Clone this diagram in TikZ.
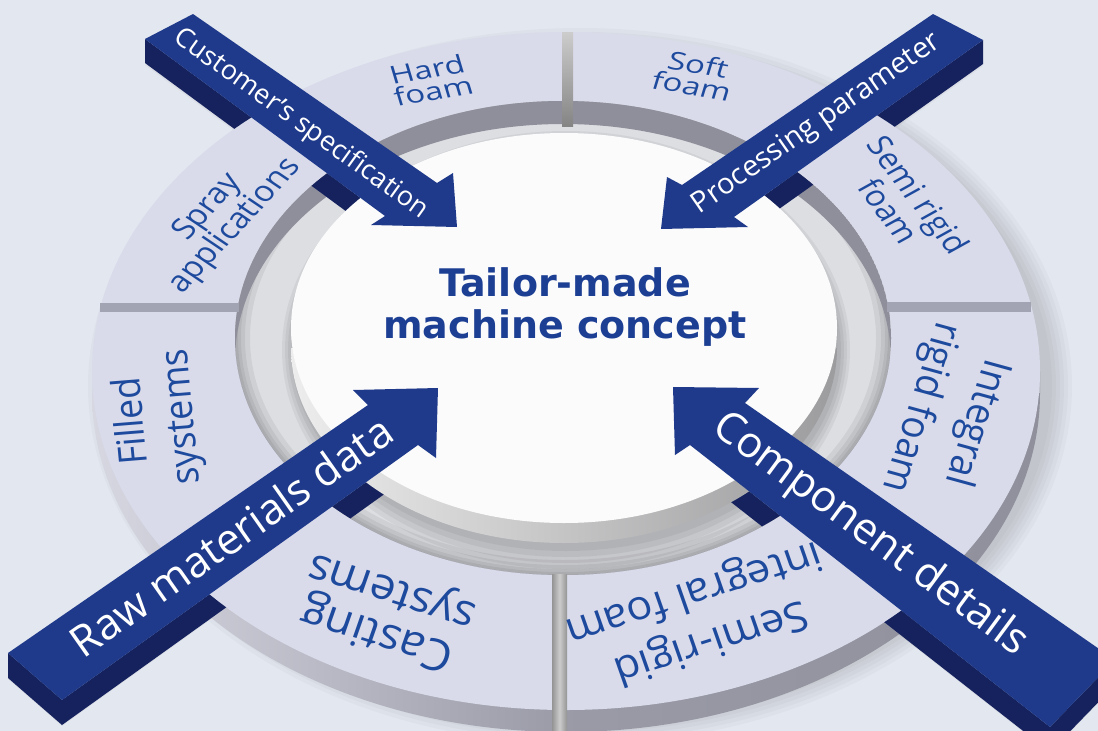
\documentclass[tikz,border=0pt]{standalone}
\usepackage{fontspec}
\setmainfont{Open Sans}
\newfontfamily\titlefont{DejaVu Sans}

\definecolor{bgcolor}{HTML}{E3E7EF}
\definecolor{ringtop}{HTML}{D9DBEB}
\definecolor{walllight}{HTML}{D6D7E1}
\definecolor{walldark}{HTML}{8F909C}
\definecolor{innerwall}{HTML}{8E8F9B}
\definecolor{holelight}{HTML}{DCDEE2}
\definecolor{disctop}{HTML}{FBFBFB}
\definecolor{discwallL}{HTML}{EDEDED}
\definecolor{discwallR}{HTML}{9C9C9E}
\definecolor{arrowblue}{HTML}{1F3A8A}
\definecolor{arrowdark}{HTML}{15225E}
\definecolor{ringtext}{HTML}{1E4A9E}
\definecolor{titleblue}{HTML}{1C3F94}
\definecolor{gapgray}{HTML}{A3A4B3}

\tikzset{
  arrowtop/.style={fill=arrowblue},
  arrowside/.style={fill=arrowdark},
  ringlabel/.style={text=ringtext, align=center, inner sep=0pt},
  ringfont/.style 2 args={font=\fontsize{#1}{#2}\selectfont},
  arrowlabel/.style={text=white, inner sep=0pt, font=\fontsize{27}{30}\selectfont},
  biglabel/.style={arrowlabel, font=\fontsize{43}{44}\selectfont},
}

\begin{document}
\begin{tikzpicture}[x=1pt,y=-1pt]
\useasboundingbox (0,0) rectangle (1098,731);
\clip (0,0) rectangle (1098,731);
\fill[bgcolor] (0,0) rectangle (1098,731);

% arrow corners, in pixels
\coordinate (cs-t1) at (145,39);
\coordinate (cs-t2) at (193,14);
\coordinate (cs-s2) at (437,183);
\coordinate (cs-b2) at (453,173);
\coordinate (cs-tip) at (457,227);
\coordinate (cs-b1) at (371,225);
\coordinate (cs-s1) at (385,216);

\coordinate (pp-t1) at (933,14);
\coordinate (pp-t2) at (983,40);
\coordinate (pp-s2) at (734,217);
\coordinate (pp-b2) at (748,227);
\coordinate (pp-tip) at (661,229);
\coordinate (pp-b1) at (667,177);
\coordinate (pp-s1) at (682,185);

\coordinate (rm-t1) at (8,653);
\coordinate (rm-t2) at (62,700);
\coordinate (rm-s1) at (368,405);
\coordinate (rm-b1) at (353,390);
\coordinate (rm-tip) at (438,388);
\coordinate (rm-b2) at (436,458);
\coordinate (rm-s2) at (418,445);

\coordinate (cd-tip) at (673,387);
\coordinate (cd-b1) at (759,388);
\coordinate (cd-s1) at (745,403);
\coordinate (cd-t1) at (1115,660);
\coordinate (cd-t2) at (1050,727);
\coordinate (cd-s2) at (690,445);
\coordinate (cd-b2) at (675,455);

% soft shadows on the ground
\foreach \d in {10,18,26}{
  \fill[black,opacity=0.04] ([yshift=-\d pt]cs-t1) -- ([yshift=-\d pt]cs-t2) -- ([yshift=-\d pt]cs-s2) -- ([yshift=-\d pt]cs-s1) -- cycle;
  \fill[black,opacity=0.04] ([yshift=-\d pt]pp-t1) -- ([yshift=-\d pt]pp-t2) -- ([yshift=-\d pt]pp-s2) -- ([yshift=-\d pt]pp-s1) -- cycle;
  \fill[black,opacity=0.04] ([yshift=-\d pt]rm-t1) -- ([yshift=-\d pt]rm-t2) -- ([yshift=-\d pt]rm-s2) -- ([yshift=-\d pt]rm-s1) -- cycle;
  \fill[black,opacity=0.04] ([yshift=-\d pt]cd-t1) -- ([yshift=-\d pt]cd-t2) -- ([yshift=-\d pt]cd-s2) -- ([yshift=-\d pt]cd-s1) -- cycle;
}
\foreach \k in {1,...,6}{
  \pgfmathsetmacro{\rx}{468+4*\k}
  \pgfmathsetmacro{\ry}{334+4*\k}
  \fill[black,opacity=0.025] (580,386) ellipse [x radius=\rx, y radius=\ry];
}

% ring
\shade[left color=walllight, right color=walldark, middle color=walldark!85!walllight]
  (92,371) rectangle (1040,393) (566,393) ellipse [x radius=474, y radius=339];
\fill[ringtop] (566,371) ellipse [x radius=474, y radius=339];

% hole of the ring
\fill[holelight] (563,338) ellipse [x radius=328, y radius=237];
\begin{scope}
\clip (563,338) ellipse [x radius=328, y radius=237];
\foreach \w in {6,12,20,30}
  \draw[black, opacity=0.06, line width=\w pt] (563,338) ellipse [x radius=328, y radius=237];
\fill[innerwall, even odd rule] (563,338) ellipse [x radius=328, y radius=237]
  (563,361) ellipse [x radius=328, y radius=237];
\foreach \k in {1,...,4}{
  \pgfmathsetmacro{\rx}{272+3*\k}
  \pgfmathsetmacro{\ry}{195+6*\k}
  \fill[black,opacity=0.05] (566,350) ellipse [x radius=\rx, y radius=\ry];
}
\end{scope}

% gaps between the segments
\shade[top color=black!20, bottom color=black!48] (562,32.5) rectangle (573,126);
\shade[left color=black!42, right color=black!42, middle color=black!20] (552,574) rectangle (567,731);
\fill[gapgray] (100,303) rectangle (239,312);
\fill[gapgray] (887,302) rectangle (1031,312);

% segment labels, flattened onto the ring
\node[ringlabel, ringfont={33}{29}, yscale=0.75, rotate=12.6] (hard) at (430,80) {Hard\\foam};
\node[ringlabel, ringfont={33}{29}, yscale=0.75, rotate=-12.8] (soft) at (695,75) {Soft\\foam};
\node[ringlabel, ringfont={34}{35}, yscale=0.85, rotate=-56.9] (semirigid) at (904,203) {Semi rigid\\foam};
\node[ringlabel, ringfont={34}{35}, yscale=0.85, rotate=51.6] (spray) at (222,217) {Spray\\applications};
\node[ringlabel, ringfont={39}{50}, yscale=0.92, rotate=95] (filled) at (158,419) {Filled\\systems};
\node[ringlabel, ringfont={40}{58}, yscale=0.92, rotate=-106.6] (integral) at (948,415) {Integral\\rigid foam};
\node[ringlabel, ringfont={46}{47}, yscale=0.95, rotate=161.6] (casting) at (385,611) {Casting\\systems};
\node[ringlabel, ringfont={43}{54}, yscale=0.95, rotate=198.4] (semiint) at (702,616) {Semi-rigid\\integral foam};

% sides of the arrows
\begin{scope}[even odd rule]
\clip (0,0) rectangle (1098,731)
  (566,371) ellipse [x radius=474, y radius=339]
  (563,338) ellipse [x radius=328, y radius=237];
\fill[arrowside] (cs-t1) -- (cs-s1) -- ([yshift=-24pt]cs-s1) -- ([yshift=-24pt]cs-t1) -- cycle;
\fill[arrowside] (pp-t2) -- (pp-s2) -- ([yshift=-24pt]pp-s2) -- ([yshift=-24pt]pp-t2) -- cycle;
\fill[arrowside] (rm-t1) -- (rm-t2) -- (rm-s2) -- ([yshift=-25pt]rm-s2) -- ([yshift=-25pt]rm-t2) -- ([yshift=-25pt]rm-t1) -- cycle;
\fill[arrowside] (cd-s2) -- (cd-t2) -- (cd-t1) -- ([yshift=-25pt]cd-t1) -- ([yshift=-25pt]cd-t2) -- ([yshift=-25pt]cd-s2) -- cycle;
\end{scope}

% centre disc
\shade[left color=discwallL, right color=discwallR]
  (291,328) rectangle (837,348) (564,348) ellipse [x radius=273, y radius=195];
\fill[disctop] (564,328) ellipse [x radius=273, y radius=195];

% arrows
\fill[arrowtop] (cs-t1) -- (cs-t2) -- (cs-s2) -- (cs-b2) -- (cs-tip) -- (cs-b1) -- (cs-s1) -- cycle;
\fill[arrowtop] (pp-t1) -- (pp-t2) -- (pp-s2) -- (pp-b2) -- (pp-tip) -- (pp-b1) -- (pp-s1) -- cycle;
\fill[arrowtop] (rm-t1) -- (rm-s1) -- (rm-b1) -- (rm-tip) -- (rm-b2) -- (rm-s2) -- (rm-t2) -- cycle;
\fill[arrowtop] (cd-tip) -- (cd-b1) -- (cd-s1) -- (cd-t1) -- (cd-t2) -- (cd-s2) -- (cd-b2) -- cycle;

\node[arrowlabel, rotate=-35.6] (cs-label) at (301,124) {Customer’s specification};
\node[arrowlabel, font=\fontsize{29}{30}\selectfont, rotate=34.8] (pp-label) at (817,124) {Processing parameter};
\node[biglabel, rotate=35.1] (rm-label) at (231,536) {Raw materials data};
\node[biglabel, rotate=-36.4] (cd-label) at (870,535) {Component details};

\node[text=titleblue, align=center, font=\titlefont\bfseries\fontsize{38}{42}\selectfont] (concept) at (565,307) {Tailor-made\\machine concept};
\end{tikzpicture}
\end{document}
